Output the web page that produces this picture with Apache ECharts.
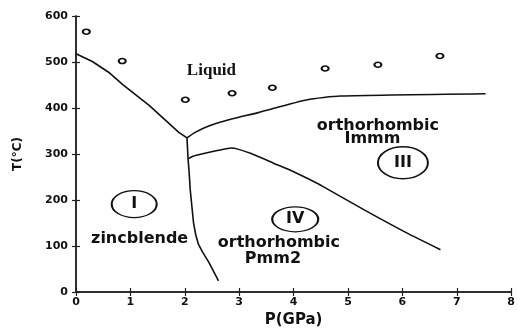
<!DOCTYPE html>
<html>
<head>
<meta charset="utf-8">
<script src="https://cdn.jsdelivr.net/npm/echarts@6/dist/echarts.min.js"></script>
<style>
html,body{margin:0;padding:0;background:#fff;}
#c{width:518px;height:333px;}
</style>
</head>
<body>
<div id="c"></div>
<script>
// Axis ticks
var xTicks = [0, 1, 2, 3, 4, 5, 6, 7, 8];
var yTicks = [0, 100, 200, 300, 400, 500, 600];

// Measured melting points (open circles): [P (GPa), T (°C)]
var meltPoints = [[0.19, 566], [0.85, 502], [2.01, 418], [2.87, 432], [3.61, 444], [4.58, 486], [5.55, 494], [6.69, 513]];

// Phase boundaries
var liquidusI = [[0, 518], [0.3, 501], [0.62, 476], [0.86, 451], [1.35, 405], [1.89, 347], [2.04, 335]];
var boundaryIIV = [[2.04, 335], [2.06, 290], [2.08, 260], [2.1, 222], [2.16, 151], [2.2, 125], [2.25, 104], [2.33, 86], [2.44, 65], [2.62, 24]];
var liquidusIII = [[2.04, 335], [2.19, 347], [2.44, 361], [2.86, 376], [3.35, 390], [4.25, 418], [4.86, 426], [7.53, 431]];
var boundaryIVIII = [[2.07, 290], [2.15, 295], [2.31, 300], [2.62, 308], [2.86, 313], [3.22, 301], [3.65, 279], [3.95, 264], [4.44, 236], [4.56, 228], [5.29, 179], [6.07, 129], [6.7, 92]];

// Region text labels: [P, T, text]
var phaseNames = [[3.73, 107, 'orthorhombic'], [3.62, 73, 'Pmm2'], [5.55, 362, 'orthorhombic'], [5.45, 332, 'Immm'], [1.17, 116, 'zincblende']];
var liquidLabel = [[2.49, 482, 'Liquid']];
// Roman numeral phase markers: [P, T, numeral]
var phaseNumerals = [[1.07, 191, 'I'], [6.01, 281, 'III'], [4.03, 158, 'IV']];
var numeralSizes = [[45, 27], [50, 32], [46, 25]];

var ink = '#111';
function lineSeries(d, sm) {
  return {type: 'line', data: d, showSymbol: false, smooth: sm, lineStyle: {color: ink, width: 1.6, join: 'round'}, silent: true, z: 3};
}

var chart = echarts.init(document.getElementById('c'), null, {renderer: 'canvas'});
var axisCommon = {
  type: 'value',
  axisLine: {show: true, lineStyle: {color: '#222', width: 1.5}},
  axisTick: {show: true, inside: true, length: 4, lineStyle: {color: '#222', width: 1.2}},
  splitLine: {show: false}
};
chart.setOption({
  animation: false,
  backgroundColor: '#fff',
  grid: {left: 76, right: 2, top: 16, bottom: 36},
  xAxis: [
    Object.assign({}, axisCommon, {
      min: xTicks[0], max: xTicks[xTicks.length - 1], interval: 1, position: 'bottom',
      name: 'P(GPa)', nameLocation: 'middle', nameGap: 21,
      nameTextStyle: {fontFamily: 'DejaVu Sans', fontWeight: 'bold', fontSize: 15, color: ink},
      axisLabel: {margin: 5, fontFamily: 'DejaVu Sans', fontWeight: 'bold', fontSize: 11, color: ink}
    }),
    Object.assign({}, axisCommon, {
      min: xTicks[0], max: xTicks[xTicks.length - 1], interval: 1, position: 'top',
      axisLabel: {show: false}
    })
  ],
  yAxis: [
    Object.assign({}, axisCommon, {
      min: yTicks[0], max: yTicks[yTicks.length - 1], interval: 100, position: 'left',
      name: 'T(°C)', nameLocation: 'middle', nameGap: 52, nameRotate: 90,
      nameTextStyle: {fontFamily: 'DejaVu Sans', fontWeight: 'bold', fontSize: 12, color: ink},
      axisLabel: {margin: 8, fontFamily: 'DejaVu Sans', fontWeight: 'bold', fontSize: 11, color: ink}
    }),
    Object.assign({}, axisCommon, {
      min: yTicks[0], max: yTicks[yTicks.length - 1], interval: 100, position: 'right',
      axisLabel: {show: false}
    })
  ],
  series: [
    lineSeries(liquidusI, false),
    lineSeries(boundaryIIV, false),
    lineSeries(liquidusIII, 0.2),
    lineSeries(boundaryIVIII, 0.2),
    {
      type: 'scatter', data: meltPoints, symbol: 'circle', symbolSize: [7, 5],
      itemStyle: {color: '#fff', borderColor: ink, borderWidth: 1.8, opacity: 1}, z: 5
    },
    {
      type: 'scatter', data: phaseNames, symbolSize: 0, z: 6, itemStyle: {opacity: 1},
      label: {show: true, position: 'inside', formatter: function (p) { return p.data[2]; },
        fontFamily: 'DejaVu Sans', fontWeight: 'bold', fontSize: 16, color: ink}
    },
    {
      type: 'scatter', data: liquidLabel, symbolSize: 0, z: 6, itemStyle: {opacity: 1},
      label: {show: true, position: 'inside', formatter: function (p) { return p.data[2]; },
        fontFamily: 'Liberation Serif', fontWeight: 'bold', fontSize: 17, color: ink}
    },
    {
      type: 'scatter', data: phaseNumerals, symbol: 'circle',
      symbolSize: function (v, p) { return numeralSizes[p.dataIndex]; },
      itemStyle: {color: 'rgba(255,255,255,0)', borderColor: ink, borderWidth: 1.6, opacity: 1}, z: 6,
      label: {show: true, position: 'inside', formatter: function (p) { return p.data[2]; },
        fontFamily: 'DejaVu Sans', fontWeight: 'bold', fontSize: 16, color: ink}
    }
  ]
});
</script>
</body>
</html>
